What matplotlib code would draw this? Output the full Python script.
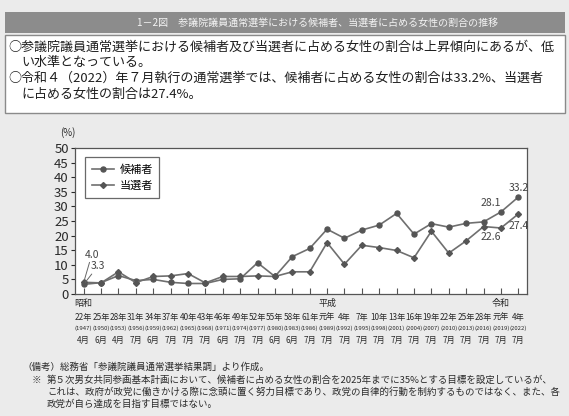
import matplotlib.pyplot as plt
from matplotlib.patches import Rectangle

plt.rcParams['font.family'] = ['Noto Sans CJK JP', 'DejaVu Sans']

# 参議院議員通常選挙 執行年
era_years = ['22年', '25年', '28年', '31年', '34年', '37年', '40年', '43年', '46年',
             '49年', '52年', '55年', '58年', '61年', '元年', '4年', '7年', '10年',
             '13年', '16年', '19年', '22年', '25年', '28年', '元年', '4年']
west_years = ['(1947)', '(1950)', '(1953)', '(1956)', '(1959)', '(1962)', '(1965)',
              '(1968)', '(1971)', '(1974)', '(1977)', '(1980)', '(1983)', '(1986)',
              '(1989)', '(1992)', '(1995)', '(1998)', '(2001)', '(2004)', '(2007)',
              '(2010)', '(2013)', '(2016)', '(2019)', '(2022)']
months = ['4月', '6月', '4月', '7月', '6月', '7月', '7月', '7月', '6月', '7月', '7月',
          '6月', '6月', '7月', '7月', '7月', '7月', '7月', '7月', '7月', '7月', '7月',
          '7月', '7月', '7月', '7月']
eras = [(0, '昭和'), (14, '平成'), (24, '令和')]

# 女性の割合 (%)
candidates = [3.3, 3.9, 6.3, 4.6, 5.0, 4.0, 3.6, 3.6, 5.0, 5.2, 10.7, 6.0, 12.8,
              15.6, 22.2, 19.1, 21.9, 23.6, 27.6, 20.5, 24.1, 22.9, 24.2, 24.7,
              28.1, 33.2]
winners = [4.0, 3.8, 7.6, 3.9, 6.0, 6.2, 7.0, 3.8, 6.0, 6.0, 6.2, 6.0, 7.6, 7.6,
           17.6, 10.2, 16.7, 15.9, 14.9, 12.4, 21.5, 14.0, 18.2, 23.1, 22.6, 27.4]

title = '1－2図　参議院議員通常選挙における候補者、当選者に占める女性の割合の推移'
summary = [
    (8, '○参議院議員通常選挙における候補者及び当選者に占める女性の割合は上昇傾向にあるが、低'),
    (21, 'い水準となっている。'),
    (8, '○令和４（2022）年７月執行の通常選挙では、候補者に占める女性の割合は33.2%、当選者'),
    (21, 'に占める女性の割合は27.4%。'),
]
notes = [
    (22, '（備考）総務省「参議院議員通常選挙結果調」より作成。'),
    (32, '※'),
    (47, '第５次男女共同参画基本計画において、候補者に占める女性の割合を2025年までに35%とする目標を設定しているが、'),
    (47, 'これは、政府が政党に働きかける際に念頭に置く努力目標であり、政党の自律的行動を制約するものではなく、また、各'),
    (47, '政党が自ら達成を目指す目標ではない。'),
]
note_rows = [367, 380, 380, 392, 404]

W, H = 569, 416
fig = plt.figure(figsize=(W / 100, H / 100), dpi=100, facecolor='#ebebeb')


def fx(px):
    return px / W


def fy(py):
    return 1 - py / H


# header bar and summary box
fig.patches.append(Rectangle((fx(5), fy(33)), fx(560), 21 / H, transform=fig.transFigure,
                             facecolor='#8c8c8c', edgecolor='none'))
fig.text(fx(318), fy(22.5), title, color='#f4f4f4', fontsize=7.2, ha='center', va='center')
fig.patches.append(Rectangle((fx(5), fy(113)), fx(560), 78 / H, transform=fig.transFigure,
                             facecolor='white', edgecolor='#8a8a8a', linewidth=1))
for (x0, line), yy in zip(summary, [47, 62, 78, 94]):
    fig.text(fx(x0), fy(yy), line, fontsize=9.4, color='#1e1e1e', va='center')

ax = fig.add_axes([fx(75), fy(294), fx(452), 146 / H])
ax.set_facecolor('white')

x = list(range(len(candidates)))
ax.plot(x, candidates, color='#6f6f6f', lw=1.2, marker='o', ms=3.6,
        mfc='#555555', mec='#555555', label='候補者')
ax.plot(x, winners, color='#6f6f6f', lw=1.2, marker='D', ms=3.0,
        mfc='#555555', mec='#555555', label='当選者')

ax.set_xlim(-0.5, len(x) - 0.5)
ax.set_ylim(0, 50)
ax.set_yticks(range(0, 51, 5))
ax.tick_params(axis='y', direction='out', length=3, width=0.8, labelsize=9.5,
               colors='#2a2a2a', pad=1.5)
ax.set_xticks(x)
ax.set_xticklabels([])
ax.tick_params(axis='x', direction='in', length=4, width=0.8, colors='#555555')
for s in ax.spines.values():
    s.set_color('#555555')
    s.set_linewidth(0.9)

# three-row x labels: 和暦, 西暦, 月
tr = ax.get_xaxis_transform()
for i in x:
    ax.text(i, -0.16, era_years[i], transform=tr, ha='center', va='center',
            fontsize=5.9, color='#2a2a2a')
    ax.text(i, -0.237, west_years[i], transform=tr, ha='center', va='center',
            fontsize=4.3, color='#2a2a2a')
    ax.text(i, -0.315, months[i], transform=tr, ha='center', va='center',
            fontsize=5.9, color='#2a2a2a')
for i, name in eras:
    ax.text(i, -0.062, name, transform=tr, ha='center', va='center',
            fontsize=6.5, color='#2a2a2a')

fig.text(fx(60), fy(133), '(%)', fontsize=7, color='#2a2a2a', va='center')

# value labels
ax.annotate(f'{winners[0]:.1f}', xy=(0, winners[0]), xytext=(0.05, 13.5),
            fontsize=7.5, color='#444444', ha='left', va='center',
            arrowprops=dict(arrowstyle='-', color='#666666', lw=0.7, shrinkA=0, shrinkB=2))
ax.annotate(f'{candidates[0]:.1f}', xy=(0, candidates[0]), xytext=(0.4, 9.5),
            fontsize=7.5, color='#444444', ha='left', va='center',
            arrowprops=dict(arrowstyle='-', color='#666666', lw=0.7, shrinkA=0, shrinkB=2))
ax.text(24, candidates[24] + 1.5, f'{candidates[24]:.1f}', fontsize=7.5, color='#444444',
        ha='right', va='bottom')
ax.text(25, candidates[25] + 1.5, f'{candidates[25]:.1f}', fontsize=7.5, color='#444444',
        ha='center', va='bottom')
ax.text(24, winners[24] - 1.2, f'{winners[24]:.1f}', fontsize=7.5, color='#444444',
        ha='right', va='top')
ax.text(24.45, winners[24] + 0.6, f'{winners[25]:.1f}', fontsize=7.5, color='#444444',
        ha='left', va='center')

leg = ax.legend(loc='upper left', bbox_to_anchor=(0.022, 0.935), borderaxespad=0,
                fontsize=8, handlelength=2.0, handletextpad=0.5, frameon=True,
                fancybox=False, labelspacing=0.55, borderpad=0.6)
leg.get_frame().set_edgecolor('#444444')
leg.get_frame().set_linewidth(0.9)

for (x0, line), yy in zip(notes, note_rows):
    fig.text(fx(x0), fy(yy), line, fontsize=6.8, color='#2a2a2a', va='center')

fig.savefig('out.png', dpi=100, facecolor=fig.get_facecolor())
